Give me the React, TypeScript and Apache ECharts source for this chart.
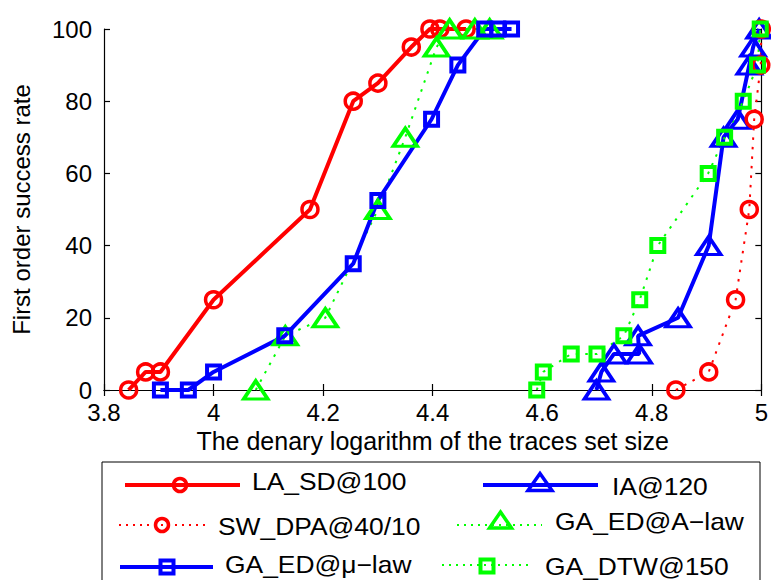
import React, { useEffect, useRef } from "react";
import * as echarts from "echarts";

// ---- data ----
const laSdX = [3.845, 3.876, 3.903, 4.0, 4.176, 4.255, 4.3, 4.361, 4.395, 4.413, 4.461];
const laSdY = [0, 5, 5, 25, 50, 80, 85, 95, 100, 100, 100];

const ia120X = [4.699, 4.708, 4.731, 4.777, 4.775, 4.848, 4.904, 4.931, 4.957, 4.978, 4.985, 4.996];
const ia120Y = [0, 5, 10, 10, 15, 20, 40, 70, 75, 90, 95, 100];

const swDpaX = [4.844, 4.904, 4.953, 4.978, 4.987, 4.999, 5.0];
const swDpaY = [0, 5, 25, 50, 75, 90, 100];

const gaEdAX = [4.077, 4.131, 4.204, 4.3, 4.35, 4.407, 4.431, 4.477, 4.504];
const gaEdAY = [0, 15, 20, 50, 70, 95, 100, 100, 100];

const gaEdMuX = [3.903, 3.954, 4.0, 4.13, 4.255, 4.3, 4.398, 4.446, 4.495, 4.519, 4.544];
const gaEdMuY = [0, 0, 5, 15, 35, 52.5, 75, 90, 100, 100, 100];

const gaDtwX = [4.59, 4.602, 4.653, 4.7, 4.749, 4.778, 4.811, 4.903, 4.933, 4.967, 4.993, 4.998];
const gaDtwY = [0, 5, 10, 10, 15, 25, 40, 60, 70, 80, 90, 100];

const seriesNames = ["LA_SD@100", "IA@120", "SW_DPA@40/10", "GA_ED@A\u2212law", "GA_ED@\u03bc\u2212law", "GA_DTW@150"];

const xTicks = { min: 3.8, max: 5, interval: 0.2 };
const yTicks = { min: 0, max: 100, interval: 20 };

const xTitle = "The denary logarithm of the traces set size";
const yTitle = "First order success rate";

const RED = "#ff0000";
const BLUE = "#0000ff";
const GREEN = "#00ff00";
const FONT = '"Liberation Sans", Arial, Helvetica, sans-serif';

const zip = (xs: number[], ys: number[]) => xs.map((x, i) => [x, ys[i]]);

function mkSeries(
  name: string,
  xs: number[],
  ys: number[],
  color: string,
  solid: boolean,
  symbol: string,
  symbolSize: any,
  borderWidth: number
) {
  return {
    name,
    type: "line",
    data: zip(xs, ys),
    clip: false,
    silent: true,
    symbol,
    symbolSize,
    showAllSymbol: true,
    lineStyle: solid
      ? { color, width: 4, type: "solid" }
      : { color, width: 2, type: [2.5, 7] },
    itemStyle: { color: "rgba(255,255,255,0)", borderColor: color, borderWidth },
    emphasis: { disabled: true },
  };
}

function legendGraphics() {
  const els: any[] = [];
  els.push({
    type: "rect",
    shape: { x: 102, y: 462, width: 658, height: 140 },
    style: { fill: "#fff", stroke: "#000", lineWidth: 1 },
    z: 10,
  });
  const line = (x1: number, x2: number, y: number, color: string, solid: boolean) => ({
    type: "line",
    shape: { x1, y1: y, x2, y2: y },
    style: solid
      ? { stroke: color, lineWidth: 4 }
      : { stroke: color, lineWidth: 2, lineDash: [2, 5] },
    z: 11,
  });
  const circle = (cx: number, cy: number, color: string) => ({
    type: "circle",
    shape: { cx, cy, r: 6.5 },
    style: { fill: "rgba(255,255,255,0)", stroke: color, lineWidth: 3.5 },
    z: 12,
  });
  const tri = (cx: number, cy: number, w: number, h: number, color: string) => ({
    type: "polygon",
    shape: {
      points: [
        [cx, cy - h / 2],
        [cx + w / 2, cy + h / 2],
        [cx - w / 2, cy + h / 2],
      ],
    },
    style: { fill: "rgba(255,255,255,0)", stroke: color, lineWidth: 3.5 },
    z: 12,
  });
  const sq = (cx: number, cy: number, s: number, color: string) => ({
    type: "rect",
    shape: { x: cx - s / 2, y: cy - s / 2, width: s, height: s },
    style: { fill: "rgba(255,255,255,0)", stroke: color, lineWidth: 4 },
    z: 12,
  });
  const txt = (x: number, y: number, text: string) => ({
    type: "text",
    x,
    y,
    scaleX: 1.1,
    style: {
      text,
      x: 0,
      y: 0,
      fill: "#000",
      fontSize: 24,
      fontFamily: FONT,
      align: "left",
      verticalAlign: "middle",
    },
    z: 12,
  });

  els.push(line(125, 240, 485, RED, true), circle(180, 485, RED), txt(252, 481, seriesNames[0]));
  els.push(line(483, 598, 485, BLUE, true), tri(540, 482, 24, 17, BLUE), txt(612, 486, seriesNames[1]));
  els.push(line(119, 207, 525, RED, false), circle(162, 525, RED), txt(218, 526, seriesNames[2]));
  els.push(line(457, 542, 525, GREEN, false), tri(500.5, 520, 22, 16, GREEN), txt(555, 521, seriesNames[3]));
  els.push(line(120, 213, 567, BLUE, true), sq(167, 567, 13, BLUE), txt(225, 564, seriesNames[4]));
  els.push(line(442, 530, 565, GREEN, false), sq(487, 566, 13, GREEN), txt(545, 566, seriesNames[5]));
  return els;
}

export default function App() {
  const ref = useRef<HTMLDivElement>(null);

  useEffect(() => {
    if (!ref.current) return;
    const chart = echarts.init(ref.current, null, { renderer: "svg" });
    const axisLine = { show: true, lineStyle: { color: "#000", width: 1.2 } };
    const tick = { show: true, inside: true, length: 6, lineStyle: { color: "#000", width: 1.2 } };
    const fmtX = (v: number) => String(Number(v.toFixed(1)));
    chart.setOption({
      animation: false,
      backgroundColor: "#fff",
      textStyle: { fontFamily: FONT },
      grid: { left: 104, right: 9, top: 29, bottom: 190, containLabel: false },
      xAxis: [
        {
          type: "value",
          ...xTicks,
          position: "bottom",
          axisLine,
          axisTick: tick,
          splitLine: { show: false },
          axisLabel: { color: "#000", fontSize: 24, margin: 10, formatter: fmtX },
          name: xTitle,
          nameLocation: "middle",
          nameGap: 35,
          nameTextStyle: { color: "#000", fontSize: 25, fontFamily: FONT },
        },
        {
          type: "value",
          ...xTicks,
          position: "top",
          axisLine,
          axisTick: tick,
          splitLine: { show: false },
          axisLabel: { show: false },
        },
      ],
      yAxis: [
        {
          type: "value",
          ...yTicks,
          position: "left",
          axisLine,
          axisTick: tick,
          splitLine: { show: false },
          axisLabel: { color: "#000", fontSize: 24, margin: 12 },
          name: yTitle,
          nameLocation: "middle",
          nameGap: 71,
          nameTextStyle: { color: "#000", fontSize: 24, fontFamily: FONT },
        },
        {
          type: "value",
          ...yTicks,
          position: "right",
          axisLine,
          axisTick: tick,
          splitLine: { show: false },
          axisLabel: { show: false },
        },
      ],
      series: [
        mkSeries(seriesNames[0], laSdX, laSdY, RED, true, "circle", 16, 3.5),
        mkSeries(seriesNames[1], ia120X, ia120Y, BLUE, true, "triangle", [24, 18], 3.5),
        mkSeries(seriesNames[2], swDpaX, swDpaY, RED, false, "circle", 16, 3.5),
        mkSeries(seriesNames[3], gaEdAX, gaEdAY, GREEN, false, "triangle", [24, 18], 3.5),
        mkSeries(seriesNames[4], gaEdMuX, gaEdMuY, BLUE, true, "rect", 13, 4),
        mkSeries(seriesNames[5], gaDtwX, gaDtwY, GREEN, false, "rect", 13, 4),
      ],
      graphic: legendGraphics(),
    });
    return () => chart.dispose();
  }, []);

  return (
    <div
      ref={ref}
      style={{ position: "fixed", left: 0, top: 0, width: 771, height: 580, background: "#fff" }}
    />
  );
}
